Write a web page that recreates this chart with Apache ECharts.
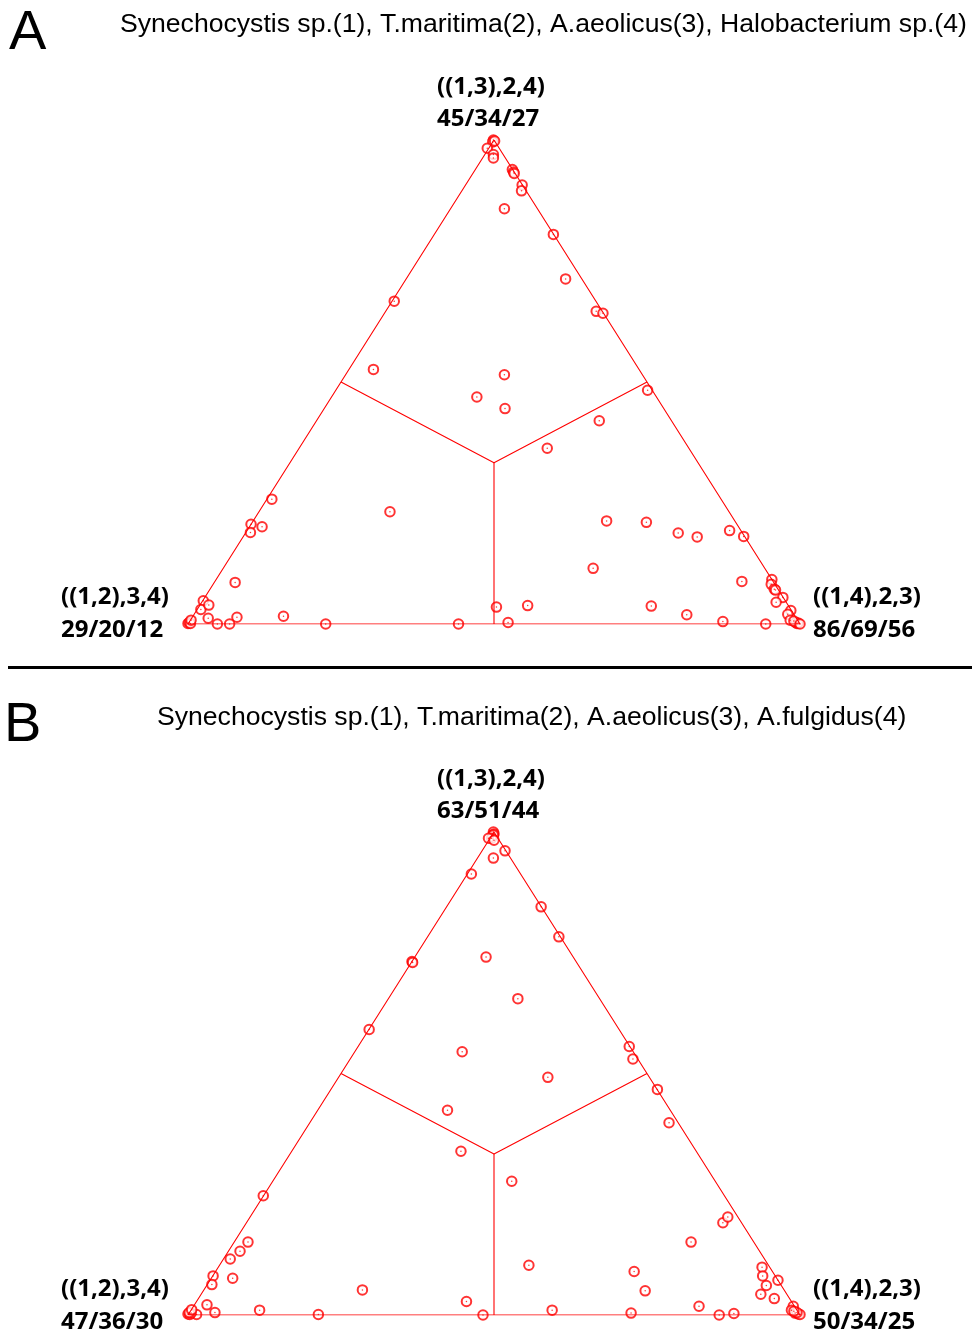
<!DOCTYPE html>
<html>
<head>
<meta charset="utf-8">
<script src="https://cdn.jsdelivr.net/npm/echarts@6/dist/echarts.min.js"></script>
<style>
html,body{margin:0;padding:0;background:#fff;}
#main{width:972px;height:1332px;}
</style>
</head>
<body>
<div id="main"></div>
<script>
/****************** data : triangle coords, 0-100 on both axes ******************/
var aX = [49.9,49.8,50.1,48.9,49.9,49.9,53.0,53.2,53.3,54.6,54.5,51.7,59.7,61.7,33.7,66.7,67.8,30.3,51.7,47.2,
	51.8,75.1,67.2,58.7,13.7,10.3,10.2,12.1,33.0,7.7,2.5,2.1,3.4,3.3,8.0,4.8,6.8,15.6,22.5,44.2,
	50.4,0.0,0.2,0.4,0.5,55.5,52.3,68.4,74.9,80.1,83.2,88.5,90.8,66.2,90.5,75.7,81.5,87.4,94.4,95.4,
	95.3,95.8,96.0,97.2,96.1,98.5,98.0,98.4,99.5,99.3,99.7,99.0,100];
var aY = [100,99.6,99.8,98.3,97.0,96.3,93.9,93.4,93.1,90.7,89.5,85.8,80.5,71.3,66.7,64.6,64.2,52.6,51.5,46.9,
	44.5,48.3,42.0,36.3,25.8,20.6,18.9,20.1,23.2,8.6,4.8,3.0,3.9,1.2,1.4,0,0,1.6,0,0,
	3.5,0.1,0.3,0.1,0.8,3.8,0.3,21.3,21.0,18.8,18.0,19.3,18.1,11.5,8.8,3.7,1.9,0.5,0,9.2,
	8.2,7.2,7.0,5.5,4.5,2.8,2.0,0.8,0.1,0.3,0.2,0.6,0];

var bX = [49.9,50.0,49.8,49.9,49.6,49.1,50.0,51.8,49.9,46.3,57.7,60.6,36.6,36.7,48.7,53.9,29.6,44.8,72.1,72.7,
	58.8,76.7,78.6,42.4,44.6,12.3,9.8,8.5,6.9,4.1,3.9,7.3,3.1,4.4,1.4,11.7,21.3,28.5,45.5,48.2,
	0.0,0.3,0.5,0.2,0.6,52.9,55.7,59.5,72.9,74.7,72.4,83.5,86.8,89.2,82.2,87.4,88.2,93.8,93.9,94.5,
	96.4,93.6,95.8,98.9,98.6,99.2,99.7,100,99.5,99.0];
var bY = [100,99.6,99.3,99.4,98.7,98.7,98.3,96.1,94.6,91.3,84.5,78.3,73.2,73.0,74.1,65.5,59.1,54.5,55.6,53.0,
	49.2,46.7,39.8,42.4,33.9,24.7,15.1,13.2,11.6,8.1,6.3,7.6,2.1,0.5,0.1,1.0,0.1,5.2,2.8,0,
	0.2,0.1,0.4,0.5,1.1,27.7,10.3,1.0,9.0,5.0,0.4,1.8,0,0.3,15.1,19.1,20.3,9.9,8.1,6.1,
	7.2,4.3,3.4,1.8,1.0,0.4,0.2,0.1,0.5,0.8];

var cornerA = ['((1,3),2,4)', '45/34/27', '((1,2),3,4)', '29/20/12', '((1,4),2,3)', '86/69/56'];
var cornerB = ['((1,3),2,4)', '63/51/44', '((1,2),3,4)', '47/36/30', '((1,4),2,3)', '50/34/25'];
var titleA = 'Synechocystis sp.(1), T.maritima(2), A.aeolicus(3), Halobacterium sp.(4)';
var titleB = 'Synechocystis sp.(1), T.maritima(2), A.aeolicus(3), A.fulgidus(4)';

// triangle outline and the three region borders
var edge = [[0,0],[50,100],[100,0],[0,0]];
var inner1 = [[25,50],[50,33.33],[75,50]];
var inner2 = [[50,33.33],[50,0]];

var RED = '#ff0000';

function zip(xs, ys){
	var res = [];
	for (var i = 0; i < xs.length; i++) res.push([xs[i], ys[i]]);
	return res;
}

function lineSeries(data, idx){
	return {
		type:'line', xAxisIndex:idx, yAxisIndex:idx, data:data,
		symbol:'none', silent:true, animation:false,
		lineStyle:{color:RED, width:1.1}
	};
}

function panelSeries(xs, ys, idx){
	var pts = zip(xs, ys);
	return [
		lineSeries(edge, idx), lineSeries(inner1, idx), lineSeries(inner2, idx),
		{
			type:'scatter', xAxisIndex:idx, yAxisIndex:idx, data:pts, clip:false,
			symbol:'emptyCircle', symbolSize:9.5, animation:false,
			itemStyle:{color:RED, borderColor:RED, borderWidth:1}
		},
		{
			// little dot at the centre of each circle
			type:'scatter', xAxisIndex:idx, yAxisIndex:idx, data:pts, clip:false,
			symbol:'circle', symbolSize:1.5, animation:false,
			itemStyle:{color:RED}
		}
	];
}

function txt(x, y, s, font, align){
	return {
		type:'text', x:x, y:y, silent:true,
		style:{text:s, font:font, fill:'#000', align:align || 'left', verticalAlign:'middle'}
	};
}

function cornerText(c, off){
	var f = 'bold 24px "Open Sans"';
	return [
		txt(437, 87 + off, c[0], f), txt(437, 119 + off, c[1], f),
		txt(61, 597 + off, c[2], f), txt(61, 630 + off, c[3], f),
		txt(813, 597 + off, c[4], f), txt(813, 630 + off, c[5], f)
	];
}

var myChart = echarts.init(document.getElementById('main'));

var option = {
	backgroundColor:'#fff',
	grid:[
		{left:188, top:140, width:612, height:484},
		{left:188, top:832, width:612, height:483}
	],
	xAxis:[
		{type:'value', gridIndex:0, min:0, max:100, show:false},
		{type:'value', gridIndex:1, min:0, max:100, show:false}
	],
	yAxis:[
		{type:'value', gridIndex:0, min:0, max:100, show:false},
		{type:'value', gridIndex:1, min:0, max:100, show:false}
	],
	series:[].concat(panelSeries(aX, aY, 0), panelSeries(bX, bY, 1)),
	graphic:[].concat(
		[
			txt(9, 34, 'A', '56px "Liberation Sans"'),
			txt(120, 25, titleA, '26.6px "Liberation Sans"'),
			{type:'rect', shape:{x:8, y:666, width:964, height:3}, style:{fill:'#000'}, silent:true},
			txt(4, 726, 'B', '56px "Liberation Sans"'),
			txt(157, 718, titleB, '26.6px "Liberation Sans"')
		],
		cornerText(cornerA, 0),
		cornerText(cornerB, 692)
	)
};

myChart.setOption(option);
</script>
</body>
</html>
